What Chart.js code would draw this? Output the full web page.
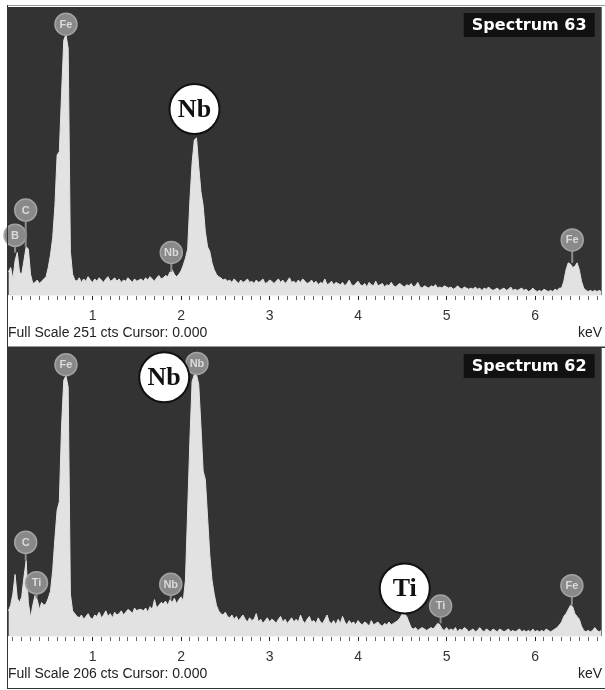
<!DOCTYPE html>
<html>
<head>
<meta charset="utf-8">
<title>EDS spectra 63 / 62</title>
<script src="https://cdn.jsdelivr.net/npm/chart.js@4.4.1/dist/chart.umd.min.js"></script>
<style>
  html, body { margin: 0; padding: 0; background: #fff; }
  #wrap { position: relative; width: 605px; height: 690px; overflow: hidden; }
  canvas { position: absolute; left: 0; }
  #c63 { top: 0; }
  #c62 { top: 341px; }
</style>
</head>
<body>
<div id="wrap">
  <canvas id="c63" width="605" height="349"></canvas>
  <canvas id="c62" width="605" height="349"></canvas>
</div>
<script>
// detector channels (keV)
const channelStart = 0.05;
const channelWidth = 0.025;

// labelled ticks on the energy axis
const tickKeV = [1, 2, 3, 4, 5, 6];

// Spectrum 63, counts per channel
const counts63 = [
  20, 24, 14, 30, 37, 20, 18, 30, 42, 40,
  18, 10, 11, 13, 10, 12, 14, 16, 24, 35,
  50, 78, 122, 125, 175, 222, 227, 215, 38, 18,
  13, 12, 15, 11, 14, 12, 16, 13, 11, 14,
  12, 15, 13, 11, 14, 16, 12, 13, 15, 12,
  14, 11, 13, 12, 15, 13, 11, 14, 12, 13,
  14, 12, 15, 13, 16, 14, 12, 15, 17, 14,
  15, 17, 16, 20, 22, 18, 16, 18, 21, 26,
  32, 40, 82, 115, 135, 137, 112, 90, 78, 55,
  42, 38, 28, 22, 18, 16, 15, 13, 14, 12,
  13, 11, 14, 12, 10, 13, 11, 12, 14, 11,
  12, 10, 13, 11, 12, 14, 10, 11, 13, 12,
  10, 12, 14, 11, 13, 10, 12, 15, 11, 12,
  10, 13, 11, 14, 12, 10, 11, 13, 10, 12,
  9, 11, 10, 14, 9, 10, 12, 9, 11, 10,
  9, 11, 8, 10, 13, 9, 8, 10, 12, 9,
  8, 10, 7, 11, 9, 8, 12, 8, 9, 10,
  7, 9, 8, 11, 8, 7, 9, 10, 8, 7,
  9, 8, 10, 7, 8, 11, 7, 6, 8, 7,
  6, 8, 7, 9, 6, 7, 6, 8, 7, 6,
  7, 5, 6, 8, 6, 5, 7, 6, 5, 6,
  5, 7, 5, 6, 4, 6, 5, 7, 5, 4,
  5, 6, 4, 5, 6, 4, 5, 7, 4, 5,
  4, 5, 6, 4, 5, 3, 4, 6, 4, 3,
  4, 3, 5, 4, 3, 4, 3, 5, 4, 6,
  6, 12, 22, 28, 27, 24, 25, 28, 22, 12,
  6, 4, 3, 4, 3, 4, 3, 4, 3
];

// Spectrum 62, counts per channel
const counts62 = [
  18, 22, 30, 44, 27, 24, 28, 42, 54, 24,
  13, 22, 29, 26, 19, 24, 22, 23, 27, 32,
  47, 70, 90, 96, 150, 183, 186, 178, 30, 18,
  16, 14, 13, 15, 12, 14, 16, 13, 12, 15,
  14, 17, 13, 15, 18, 14, 16, 13, 17, 15,
  16, 18, 15, 17, 19, 18, 16, 20, 18, 19,
  19, 18, 20, 17, 21, 19, 26, 20, 22, 24,
  23, 25, 22, 26, 24, 27, 23, 26, 28, 25,
  40, 90, 140, 182, 187, 187, 180, 150, 118, 112,
  85, 58, 40, 30, 22, 18, 16, 15, 17, 14,
  13, 15, 12, 14, 11, 13, 15, 12, 10, 13,
  11, 12, 16, 10, 12, 9, 11, 13, 10, 12,
  11, 9, 12, 14, 10, 12, 9, 11, 13, 10,
  12, 10, 15, 11, 9, 12, 14, 10, 11, 9,
  13, 10, 9, 12, 15, 10, 9, 11, 8, 12,
  9, 14, 10, 8, 11, 9, 10, 8, 11, 9,
  8, 10, 9, 7, 11, 8, 9, 10, 8, 7,
  9, 8, 10, 8, 9, 10, 11, 13, 16, 16,
  14, 10, 6, 5, 6, 4, 5, 6, 5, 4,
  5, 6, 5, 7, 9, 8, 5, 4, 6, 4,
  5, 4, 6, 3, 5, 4, 6, 5, 3, 4,
  5, 3, 4, 6, 4, 3, 5, 4, 3, 5,
  4, 3, 5, 4, 3, 4, 5, 3, 4, 3,
  4, 5, 3, 4, 3, 4, 3, 5, 3, 4,
  3, 4, 3, 5, 4, 3, 4, 5, 6, 8,
  10, 14, 16, 19, 22, 21, 16, 14, 12, 7,
  4, 3, 4, 3, 4, 6, 4, 3, 4
];

// grey element markers: symbol, energy, circle height, where the stem meets the spectrum
const marks63El = ['B', 'C', 'Fe', 'Nb', 'Fe'];
const marks63KeV = [0.125, 0.245, 0.70, 1.89, 6.42];
const marks63Cts = [52, 74, 236, 37, 48];
const marks63Stem = [37, 42, 227, 20, 28];

const marks62El = ['C', 'Ti', 'Fe', 'Nb', 'Nb', 'Ti', 'Fe'];
const marks62KeV = [0.245, 0.367, 0.70, 1.884, 2.18, 4.933, 6.416];
const marks62Cts = [67, 38, 194, 37, 195, 21.5, 36];
const marks62Stem = [54, 27, 186, 26, 187, 9, 22];

// white call-out circles added on top
const call63El = ['Nb'];
const call63KeV = [2.152];
const call63Cts = [162];

const call62El = ['Nb', 'Ti'];
const call62KeV = [1.81, 4.528];
const call62Cts = [185, 34];

function toPoints(counts) {
    return counts.map((c, i) => ({ x: +(channelStart + i * channelWidth).toFixed(3), y: c }));
}

function makeDecor(cfg) {
    return {
        id: 'panelDecor',
        beforeDraw(chart) {
            const { ctx, chartArea: a } = chart;
            ctx.save();
            ctx.fillStyle = '#333333';
            ctx.fillRect(a.left, a.top, a.right - a.left, a.bottom - a.top);
            ctx.restore();
        },
        afterDatasetsDraw(chart) {
            const { ctx, chartArea: a } = chart;
            const xs = chart.scales.x, ys = chart.scales.y;
            ctx.save();
            ctx.textAlign = 'center';
            ctx.textBaseline = 'middle';

            // grey markers
            cfg.markEl.forEach((el, i) => {
                const x = xs.getPixelForValue(cfg.markKeV[i]);
                const y = ys.getPixelForValue(cfg.markCts[i]);
                const y2 = ys.getPixelForValue(cfg.markStem[i]);
                ctx.strokeStyle = '#8d8d8d';
                ctx.lineWidth = 2;
                ctx.beginPath();
                ctx.moveTo(x, y);
                ctx.lineTo(x, y2);
                ctx.stroke();
                ctx.beginPath();
                ctx.arc(x, y, 11, 0, Math.PI * 2);
                ctx.fillStyle = '#898989';
                ctx.fill();
                ctx.strokeStyle = '#a3a3a3';
                ctx.lineWidth = 1.5;
                ctx.stroke();
                ctx.fillStyle = '#dadada';
                ctx.font = 'bold 11px "Liberation Sans", Arial, sans-serif';
                ctx.fillText(el, x, y + 0.5);
            });

            // white call-outs
            cfg.callEl.forEach((el, i) => {
                const x = xs.getPixelForValue(cfg.callKeV[i]);
                const y = ys.getPixelForValue(cfg.callCts[i]);
                ctx.beginPath();
                ctx.arc(x, y, 25, 0, Math.PI * 2);
                ctx.fillStyle = '#ffffff';
                ctx.fill();
                ctx.strokeStyle = '#111111';
                ctx.lineWidth = 2;
                ctx.stroke();
                ctx.fillStyle = '#111111';
                ctx.font = 'bold 26px "Liberation Serif", "Times New Roman", serif';
                ctx.fillText(el, x, y + 1);
            });

            // spectrum name box
            ctx.fillStyle = '#111111';
            ctx.fillRect(a.right - 138, a.top + 6, 131, 24);
            ctx.fillStyle = '#ffffff';
            ctx.font = 'bold 16px "DejaVu Sans", sans-serif';
            ctx.fillText(cfg.name, a.right - 72.5, a.top + 18.5);
            ctx.restore();
        },
        afterDraw(chart) {
            const { ctx } = chart;
            ctx.save();
            // panel frame
            ctx.lineWidth = 1;
            ctx.strokeStyle = '#9a9a9a';
            ctx.beginPath();
            ctx.moveTo(7, 5.5);
            ctx.lineTo(605, 5.5);
            ctx.stroke();
            ctx.strokeStyle = '#333333';
            ctx.beginPath();
            ctx.moveTo(7.5, 5);
            ctx.lineTo(7.5, 348);
            ctx.moveTo(7, 347.5);
            ctx.lineTo(605, 347.5);
            ctx.stroke();
            // status line
            ctx.fillStyle = '#222222';
            ctx.font = '14px "Liberation Sans", Arial, sans-serif';
            ctx.textBaseline = 'alphabetic';
            ctx.textAlign = 'left';
            ctx.fillText(cfg.status, 8, 337);
            ctx.fillText('keV', 578, 337);
            ctx.restore();
        }
    };
}

function makeChart(canvas, counts, fullScale, cfg) {
    return new Chart(canvas, {
        type: 'line',
        data: {
            datasets: [{
                data: toPoints(counts),
                borderColor: '#e2e2e2',
                backgroundColor: '#e2e2e2',
                borderWidth: 1,
                pointRadius: 0,
                tension: 0,
                fill: 'origin'
            }]
        },
        options: {
            responsive: false,
            animation: false,
            layout: { padding: { top: 7, left: 8, right: 0, bottom: 0 } },
            plugins: { legend: { display: false }, tooltip: { enabled: false } },
            scales: {
                x: {
                    type: 'linear',
                    min: 0.045,
                    max: 6.753,
                    afterBuildTicks: s => {
                        const t = [];
                        for (let k = 1; k <= 67; k++) t.push({ value: k / 10 });
                        s.ticks = t;
                    },
                    afterFit: s => { s.height = 54; },
                    ticks: {
                        autoSkip: false,
                        maxRotation: 0,
                        padding: 8,
                        color: '#333333',
                        font: { family: '"Liberation Sans", Arial, sans-serif', size: 14 },
                        callback: v => {
                            const r = Math.round(v * 10) / 10;
                            return tickKeV.includes(r) ? String(r) : '';
                        }
                    },
                    grid: {
                        drawOnChartArea: false,
                        drawTicks: true,
                        tickLength: 5,
                        tickColor: c => Number.isInteger(Math.round(c.tick.value * 10) / 10) ? '#222222' : '#666666'
                    },
                    border: { display: true, color: '#f2f2f2', width: 1 }
                },
                y: { display: false, min: 0, max: fullScale }
            }
        },
        plugins: [makeDecor(cfg)]
    });
}

makeChart(document.getElementById('c63'), counts63, 251, {
    name: 'Spectrum 63',
    status: 'Full Scale 251 cts Cursor: 0.000',
    markEl: marks63El, markKeV: marks63KeV, markCts: marks63Cts, markStem: marks63Stem,
    callEl: call63El, callKeV: call63KeV, callCts: call63Cts
});

makeChart(document.getElementById('c62'), counts62, 206, {
    name: 'Spectrum 62',
    status: 'Full Scale 206 cts Cursor: 0.000',
    markEl: marks62El, markKeV: marks62KeV, markCts: marks62Cts, markStem: marks62Stem,
    callEl: call62El, callKeV: call62KeV, callCts: call62Cts
});
</script>
</body>
</html>
